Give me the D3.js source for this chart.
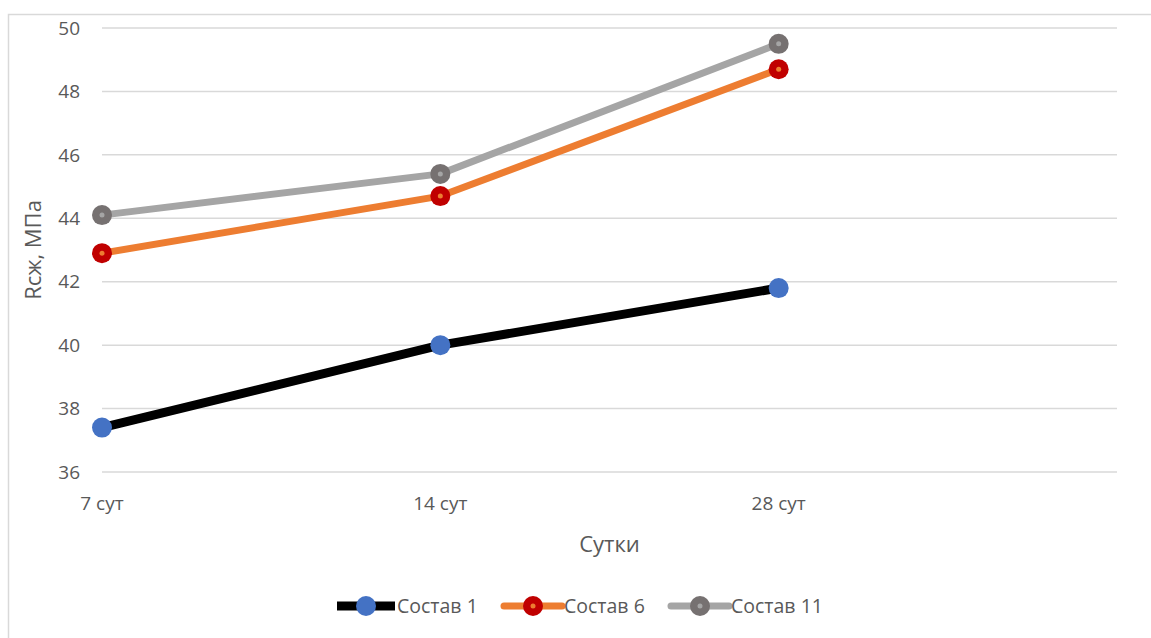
<!DOCTYPE html>
<html>
<head>
<meta charset="utf-8">
<script src="https://cdn.jsdelivr.net/npm/d3@7"></script>
<style>
  body { margin: 0; background: #fff; }
  text { font-family: "Open Sans", "Noto Sans", sans-serif; fill: #595959; }
</style>
</head>
<body>
<div id="chart"></div>
<script>
var categories = ["7 сут", "14 сут", "28 сут", ""];
var seriesNames = ["Состав 1", "Состав 6", "Состав 11"];
var sostav1 = [37.4, 40.0, 41.8];
var sostav6 = [42.9, 44.7, 48.7];
var sostav11 = [44.1, 45.4, 49.5];
var yTicks = [36, 38, 40, 42, 44, 46, 48, 50];

var width = 1151, height = 638;
var plot = { left: 102, right: 1117, top: 28, bottom: 472 };

var svg = d3.select("#chart").append("svg")
    .attr("width", width)
    .attr("height", height);

// outer chart border
svg.append("rect")
    .attr("x", 8.5).attr("y", 14.5)
    .attr("width", 1160).attr("height", 700)
    .style("fill", "none")
    .style("stroke", "#d9d9d9")
    .style("stroke-width", 1.5);

var x = d3.scalePoint()
    .domain(categories)
    .range([plot.left, plot.right]);

var y = d3.scaleLinear()
    .domain([36, 50])
    .range([plot.bottom, plot.top]);

// gridlines
svg.append("g").selectAll("line")
    .data(yTicks)
    .enter().append("line")
    .attr("x1", plot.left).attr("x2", plot.right)
    .attr("y1", function (d) { return y(d); })
    .attr("y2", function (d) { return y(d); })
    .style("stroke", "#d9d9d9")
    .style("stroke-width", 1.5);

// y tick labels
svg.append("g").selectAll("text")
    .data(yTicks)
    .enter().append("text")
    .attr("x", 80)
    .attr("y", function (d) { return y(d); })
    .attr("dy", "0.35em")
    .attr("text-anchor", "end")
    .style("font-size", "19px")
    .text(function (d) { return d; });

// x tick labels
svg.append("g").selectAll("text")
    .data(categories.filter(function (d) { return d !== ""; }))
    .enter().append("text")
    .attr("x", function (d) { return x(d); })
    .attr("y", 503)
    .attr("dy", "0.35em")
    .attr("text-anchor", "middle")
    .style("font-size", "19px")
    .text(function (d) { return d; });

// axis titles
svg.append("text")
    .attr("transform", "translate(33," + ((plot.top + plot.bottom) / 2) + ") rotate(-90)")
    .attr("text-anchor", "middle")
    .attr("dy", "0.35em")
    .style("font-size", "22px")
    .text("Rсж, МПа");

svg.append("text")
    .attr("x", (plot.left + plot.right) / 2)
    .attr("y", 544)
    .attr("dy", "0.35em")
    .attr("text-anchor", "middle")
    .style("font-size", "22px")
    .text("Сутки");

var series = [
    { name: seriesNames[0], values: sostav1, line: "#000000", lw: 9, fill: "#4472C4", dot: null },
    { name: seriesNames[1], values: sostav6, line: "#ED7D31", lw: 7, fill: "#C00000", dot: "#ED7D31" },
    { name: seriesNames[2], values: sostav11, line: "#A5A5A5", lw: 7, fill: "#767171", dot: "#A5A5A5" }
];

var line = d3.line()
    .x(function (d, i) { return x(categories[i]); })
    .y(function (d) { return y(d); });

series.forEach(function (s) {
    var g = svg.append("g");
    g.append("path")
        .attr("d", line(s.values))
        .style("fill", "none")
        .style("stroke", s.line)
        .style("stroke-width", s.lw)
        .style("stroke-linejoin", "round")
        .style("stroke-linecap", "round");
    g.selectAll("circle.m")
        .data(s.values)
        .enter().append("circle")
        .attr("class", "m")
        .attr("cx", function (d, i) { return x(categories[i]); })
        .attr("cy", function (d) { return y(d); })
        .attr("r", 10)
        .style("fill", s.fill);
    if (s.dot) {
        g.selectAll("circle.d")
            .data(s.values)
            .enter().append("circle")
            .attr("class", "d")
            .attr("cx", function (d, i) { return x(categories[i]); })
            .attr("cy", function (d) { return y(d); })
            .attr("r", 2.5)
            .style("fill", s.dot);
    }
});

// legend
var legendX = [337, 504, 671];
var legend = svg.append("g").selectAll("g")
    .data(series)
    .enter().append("g")
    .attr("transform", function (d, i) { return "translate(" + legendX[i] + ",606)"; });

legend.append("line")
    .attr("x1", 0).attr("x2", 58)
    .style("stroke", function (d) { return d.line; })
    .style("stroke-width", function (d) { return d.lw; })
    .style("stroke-linecap", function (d, i) { return i === 0 ? "butt" : "round"; });

legend.append("circle")
    .attr("cx", 29)
    .attr("r", 10)
    .style("fill", function (d) { return d.fill; });

legend.filter(function (d) { return d.dot; }).append("circle")
    .attr("cx", 29)
    .attr("r", 2.5)
    .style("fill", function (d) { return d.dot; });

legend.append("text")
    .attr("x", 60)
    .attr("dy", "0.35em")
    .style("font-size", "19.5px")
    .text(function (d) { return d.name; });
</script>
</body>
</html>
